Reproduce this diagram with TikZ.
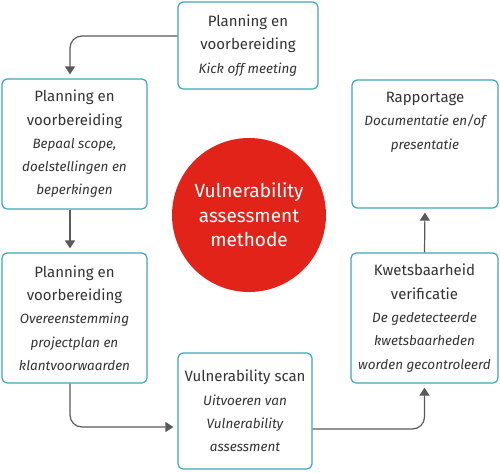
\documentclass[tikz,border=0pt]{standalone}
\usepackage{fontspec}
\setmainfont{Fira Sans}
\usepackage{xcolor}
\usepackage{tikz}
\usetikzlibrary{positioning,arrows.meta,shapes,calc}

\definecolor{tealline}{HTML}{3AA8B8}
\definecolor{textgray}{HTML}{333333}
\definecolor{arrowgray}{HTML}{595959}
\definecolor{vared}{HTML}{E2231A}

\newcommand{\detail}[1]{{\itshape\fontsize{13.5}{23.3}\selectfont #1}}

\tikzset{
  stepbox/.style={draw=tealline, line width=1.2pt, rounded corners=5pt, align=center,
    text=textgray, inner sep=0pt, font=\fontsize{15}{23.3}\selectfont},
  flow/.style={draw=arrowgray, line width=1.2pt, rounded corners=12pt,
    -{Triangle[width=10pt,length=8pt]}, shorten >=4pt},
}

\begin{document}
\begin{tikzpicture}[x=1pt, y=-1pt]
    \useasboundingbox (0,0) rectangle (500,472);

    % Center
    \fill[vared] (249,215) circle (77pt);
    \node[align=center, text=white, font=\fontsize{19}{24.5}\selectfont] (method) at (249,215)
        {Vulnerability\\assessment\\methode};

    % Steps
    \node[stepbox, minimum width=140pt, minimum height=87pt] (kick) at (248,45.5)
        {Planning en\\voorbereiding\\\detail{Kick off meeting}};
    \node[stepbox, minimum width=145pt, minimum height=130pt] (scope) at (74.5,144)
        {Planning en\\voorbereiding\\\detail{Bepaal scope,}\\\detail{doelstellingen en}\\\detail{beperkingen}};
    \node[stepbox, minimum width=145pt, minimum height=130pt] (plan) at (74.5,318)
        {Planning en\\voorbereiding\\\detail{Overeenstemming}\\\detail{projectplan en}\\\detail{klantvoorwaarden}};
    \node[stepbox, minimum width=134pt, minimum height=116pt] (scan) at (245,411)
        {Vulnerability scan\\\detail{Uitvoeren van}\\\detail{Vulnerability}\\\detail{assessment}};
    \node[stepbox, minimum width=147pt, minimum height=130pt] (verif) at (424.5,318)
        {Kwetsbaarheid\\verificatie\\\detail{De gedetecteerde}\\\detail{kwetsbaarheden}\\\detail{worden gecontroleerd}};
    \node[stepbox, minimum width=146pt, minimum height=128pt] (report) at (425,144)
        {Rapportage\\\detail{Documentatie en/of}\\\detail{presentatie}\\ ~\\ ~};

    % Arrows
    \draw[flow] ([yshift=9.5pt]kick.west) -| ([xshift=-4.5pt]scope.north);
    \draw[flow] ([xshift=-4.5pt]scope.south) -- ([xshift=-4.5pt]plan.north);
    \draw[flow] ([xshift=-4.5pt]plan.south) |- ([yshift=-16pt]scan.west);
    \draw[flow] ([yshift=-18pt]scan.east) -| (verif.south);
    \draw[flow] (verif.north) -- (report.south);
\end{tikzpicture}
\end{document}
